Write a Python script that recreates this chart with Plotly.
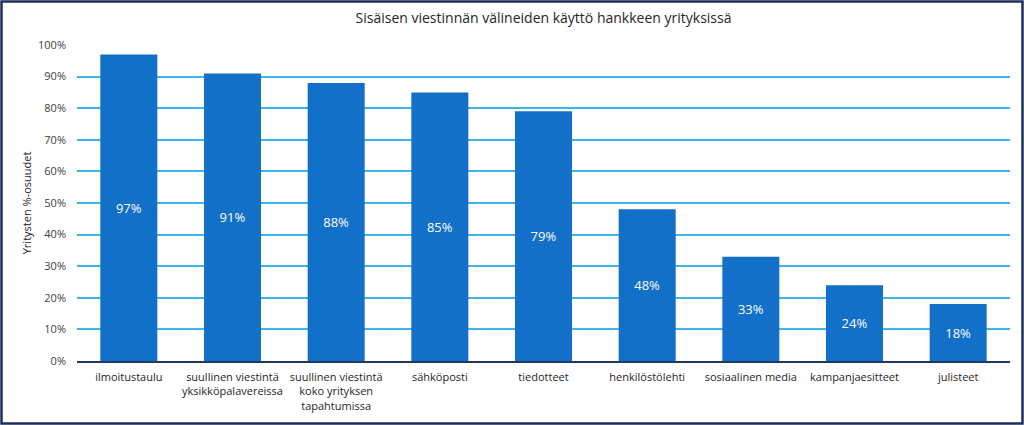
import plotly.graph_objects as go

categories = ["ilmoitustaulu", "suullinen viestintä<br>yksikköpalavereissa",
              "suullinen viestintä<br>koko yrityksen<br>tapahtumissa", "sähköposti",
              "tiedotteet", "henkilöstölehti", "sosiaalinen media",
              "kampanjaesitteet", "julisteet"]
values = [97, 91, 88, 85, 79, 48, 33, 24, 18]
y_ticks = [0, 10, 20, 30, 40, 50, 60, 70, 80, 90, 100]
y_tick_labels = [f"{v}%" for v in y_ticks]

W, H = 1024, 425
ml, mr, mt, mb = 77, 14, 45, 64
FONT = "Open Sans"

fig = go.Figure(go.Bar(
    x=categories, y=values,
    marker=dict(color="#1270C8", line=dict(width=0)),
    text=[f"{v}%" for v in values],
    textposition="inside", insidetextanchor="middle",
    textfont=dict(color="white", size=13, family=FONT),
    textangle=0,
))

pw = W - ml - mr
ph = H - mt - mb
fig.add_shape(type="rect", xref="paper", yref="paper",
              x0=(1.5 - ml) / pw, x1=(W - 1.5 - ml) / pw,
              y0=-(mb - 1.5) / ph,
              y1=1 + (mt - 1.5) / ph,
              line=dict(color="#1F2D5A", width=2.5), layer="above")

fig.update_layout(
    width=W, height=H,
    margin=dict(l=ml, r=mr, t=mt, b=mb),
    paper_bgcolor="white", plot_bgcolor="white",
    bargap=0.45,
    showlegend=False,
    title=dict(text="Sisäisen viestinnän välineiden käyttö hankkeen yrityksissä",
               x=0.5, xref="paper", y=1 - 18 / H, yanchor="middle",
               font=dict(family=FONT, size=14, color="#262626")),
    font=dict(family=FONT, size=11, color="#404040"),
)
fig.update_yaxes(range=[0, 100], tickvals=y_ticks, ticktext=y_tick_labels,
                 showgrid=True, gridcolor="#3DB5EA", gridwidth=1.5,
                 zeroline=False, showline=False, ticks="", ticklen=0,
                 ticklabelstandoff=10,
                 tickfont=dict(size=11, color="#404040"),
                 title=dict(text="Yritysten %-osuudet", font=dict(size=11, color="#262626"),
                            standoff=4))
fig.update_xaxes(showline=True, linecolor="#1F3864", linewidth=1.5,
                 ticks="", ticklabelstandoff=5,
                 tickfont=dict(size=11, color="#262626"), tickangle=0)

fig.write_html("out.html")
